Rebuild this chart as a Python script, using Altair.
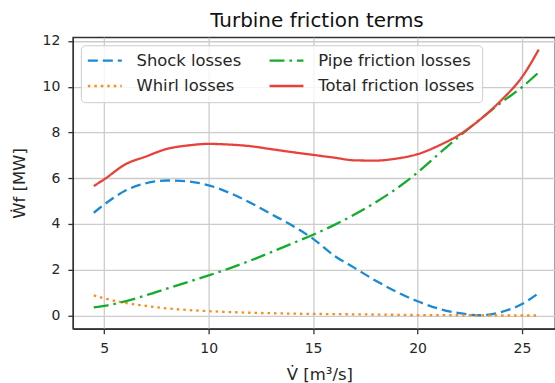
import altair as alt
import pandas as pd

flow = [4.5, 5, 6, 7, 8, 9, 10, 11, 12, 13, 14, 15, 16, 17, 18, 19, 20, 21, 22, 23, 24, 25, 25.8]
shock = [4.49, 4.85, 5.45, 5.78, 5.9, 5.86, 5.69, 5.36, 4.93, 4.43, 3.93, 3.35, 2.62, 2.07, 1.52, 1.03, 0.62, 0.3, 0.1, 0.01, 0.15, 0.5, 0.98]
whirl = [0.88, 0.75, 0.55, 0.42, 0.31, 0.24, 0.19, 0.15, 0.12, 0.1, 0.08, 0.07, 0.06, 0.05, 0.04, 0.03, 0.02, 0.02, 0.01, 0.01, 0.0, 0.0, 0.0]
pipe = [0.35, 0.42, 0.62, 0.88, 1.17, 1.46, 1.75, 2.06, 2.4, 2.77, 3.15, 3.53, 3.95, 4.42, 4.95, 5.55, 6.25, 7.05, 7.83, 8.58, 9.3, 9.98, 10.63]
total = [5.66, 5.95, 6.6, 6.95, 7.28, 7.43, 7.5, 7.47, 7.4, 7.27, 7.14, 7.02, 6.9, 6.78, 6.77, 6.86, 7.05, 7.42, 7.9, 8.57, 9.4, 10.42, 11.62]

names = ["Shock losses", "Whirl losses", "Pipe friction losses", "Total friction losses"]
legend_order = ["Shock losses", "Whirl losses", "Pipe friction losses", "Total friction losses"]
colors = ["#1a8ad4", "#ff8c1a", "#12ad2b", "#e8403a"]
dashes = [[10, 5], [2.5, 4], [15, 5, 2.5, 5], [1, 0]]

rows = []
for name, vals in zip(names, [shock, whirl, pipe, total]):
    for xv, yv in zip(flow, vals):
        rows.append({"flow": xv, "power": yv, "series": name})
df = pd.DataFrame(rows)

FONT = "DejaVu Sans"

legend = alt.Legend(
    title=None, orient="none", legendX=8, legendY=8, columns=2,
    symbolType="M-4,0H4", symbolSize=72.25, symbolStrokeWidth=2.3, symbolOffset=8.8,
    labelFontSize=16.4, labelFont=FONT, labelColor="#262626", labelOffset=23.6,
    columnPadding=23, rowPadding=8.6, padding=7,
    fillColor="rgba(255,255,255,0.8)", strokeColor="#cccccc", cornerRadius=4,
    labelLimit=300,
)

chart = alt.Chart(df).mark_line(strokeWidth=2.3, interpolate="monotone").encode(
    x=alt.X("flow:Q",
            scale=alt.Scale(domain=[3.5, 26.58], nice=False, zero=False),
            axis=alt.Axis(values=[5, 10, 15, 20, 25], title="V̇ [m³/s]",
                          titleX=247, titleY=51, titleBaseline="alphabetic")),
    y=alt.Y("power:Q",
            scale=alt.Scale(domain=[-0.58, 12.16], nice=False, zero=False),
            axis=alt.Axis(values=[0, 2, 4, 6, 8, 10, 12], title="Ẇf [MW]",
                          titleX=-53, titleY=146, titleAngle=-90,
                          titleBaseline="middle", titleAlign="center")),
    color=alt.Color("series:N", scale=alt.Scale(domain=legend_order, range=colors),
                    sort=legend_order, legend=legend),
    strokeDash=alt.StrokeDash("series:N", scale=alt.Scale(domain=legend_order, range=dashes),
                              sort=legend_order, legend=legend),
).properties(
    width=483, height=292,
    title=alt.Title("Turbine friction terms", fontSize=20, font=FONT, fontWeight="normal",
                    color="#111111", dx=3, offset=3),
    autosize="none",
    padding={"left": 73, "top": 37, "right": 0, "bottom": 54},
).configure_view(
    stroke="#333333", strokeWidth=1.3,
).configure_axis(
    labelFont=FONT, labelFontSize=14, labelColor="#262626",
    titleFont=FONT, titleFontSize=16.5, titleFontWeight="normal", titleColor="#262626",
    gridColor="#cccccc", gridWidth=1.3,
    domainColor="#333333", domainWidth=1.3,
    tickColor="#333333", tickSize=5, tickWidth=1.3, labelPadding=8,
)

chart.save("out.html", embed_options={"renderer": "svg", "actions": False})
